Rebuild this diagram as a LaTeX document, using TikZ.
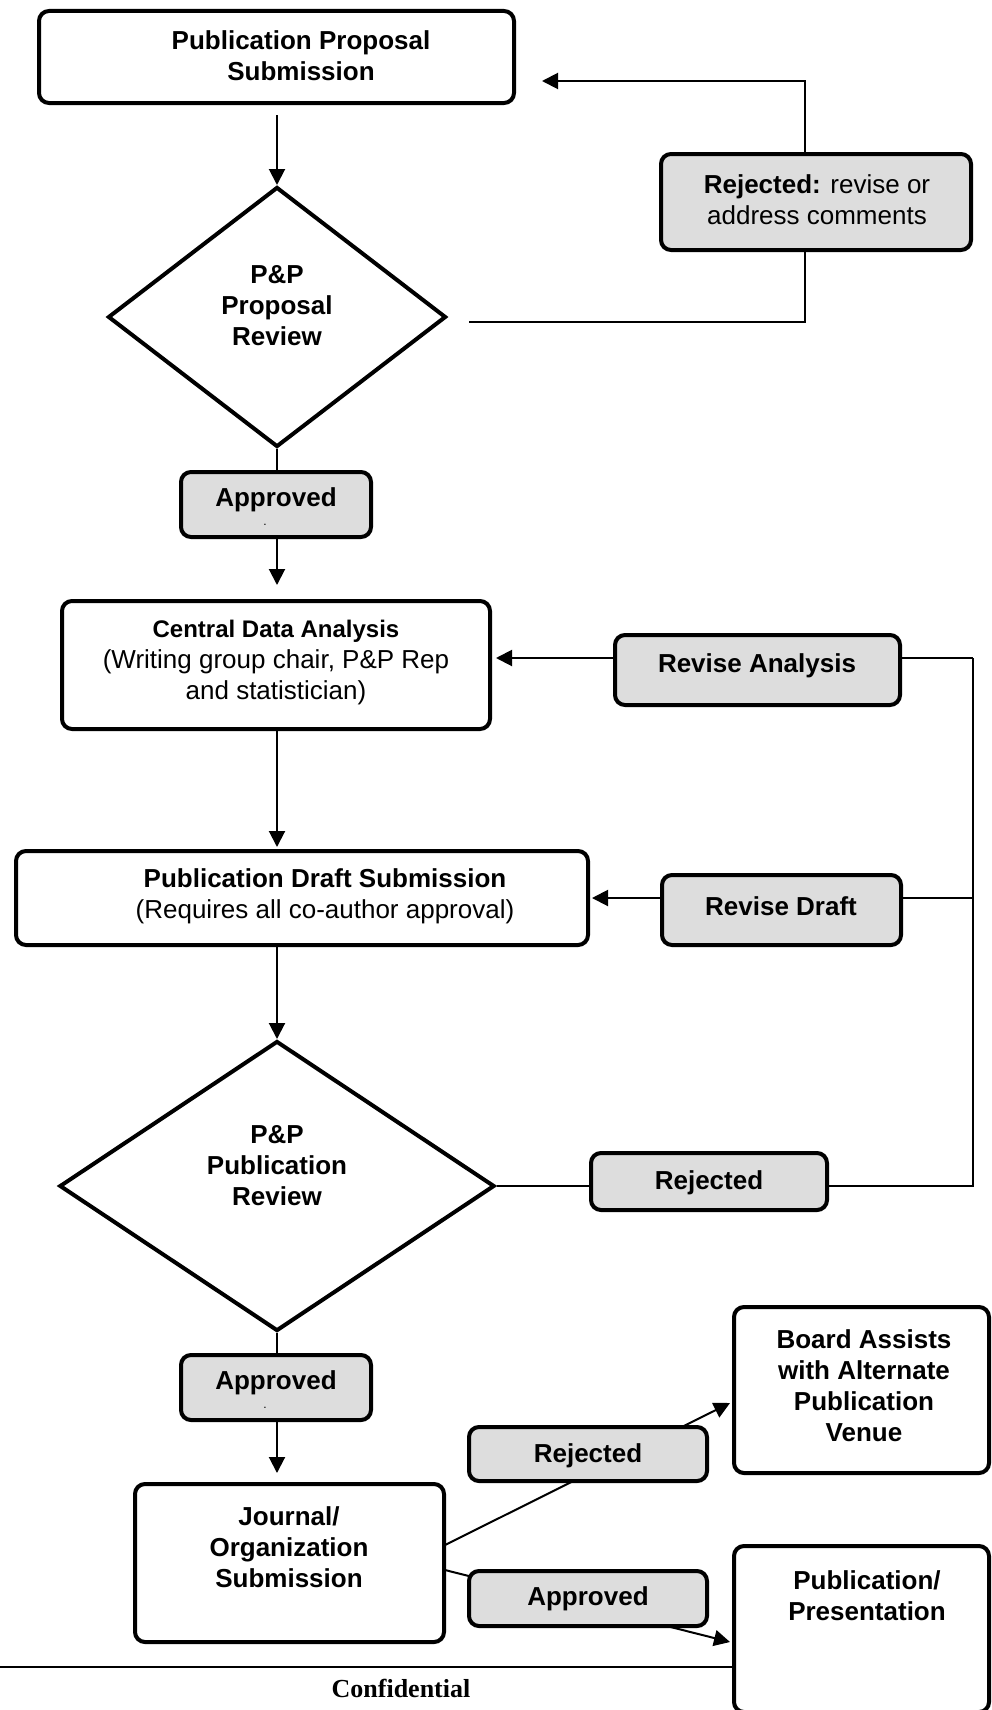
\documentclass[tikz,border=0pt]{standalone}
\usepackage{fontspec}
\setmainfont{Liberation Sans}
\newfontfamily\confserif{Liberation Serif}
\usetikzlibrary{shapes.geometric,arrows.meta,calc}
\definecolor{lgray}{RGB}{221,221,221}
\pgfdeclarelayer{bg}
\pgfsetlayers{bg,main}
\begin{document}
\begin{tikzpicture}[x=1pt,y=-1pt,
  box/.style={draw, line width=4pt, rounded corners=10pt, inner sep=0pt, fill=white},
  gbox/.style={box, fill=lgray},
  dia/.style={diamond, draw, line width=4pt, inner sep=0pt, fill=white},
  conn/.style={line width=2pt},
  arr/.style={conn, -{Triangle[length=16pt,width=16pt]}},
  txt/.style={inner sep=0pt, align=center, font=\fontsize{26}{31}\selectfont},
  btxt/.style={inner sep=0pt, align=center, font=\bfseries\fontsize{26}{31}\selectfont},
  dot/.style={inner sep=0pt, font=\fontsize{12}{12}\selectfont},
]
\useasboundingbox (0,0) rectangle (992,1710);
\clip (0,0) rectangle (992,1710);

% main boxes
\node[box, minimum width=475pt, minimum height=92pt] (b1) at (276.5,57) {};
\node[btxt] (b1t) at (301,56) {Publication Proposal\\Submission};

\node[dia, minimum width=338pt, minimum height=260pt] (d1) at (277,317) {};
\node[btxt] (d1t) at (277,306) {P\&P\\Proposal\\Review};

\node[gbox, minimum width=310pt, minimum height=96pt] (r1) at (816,202) {};
\node[txt] (r1t) at (817,200) {\textbf{Rejected:} revise or\\address comments};

\node[gbox, minimum width=190pt, minimum height=65pt] (a1) at (276,504.5) {};
\node[btxt] (a1t) at (276,500) {Approved};
\node[dot] (a1d) at (265,525) {.};

\node[box, minimum width=428pt, minimum height=128pt] (cen) at (276,665) {};
\node[txt] (cent) at (276,662) {{\bfseries\fontsize{24}{31}\selectfont Central Data Analysis}\\(Writing group chair, P\&P Rep\\and statistician)};

\node[gbox, minimum width=285pt, minimum height=70pt] (ra) at (757.5,670) {};
\node[btxt] (rat) at (757,666) {Revise Analysis};

\node[box, minimum width=572pt, minimum height=94pt] (dr) at (302,898) {};
\node[txt] (drt) at (325,896) {\textbf{Publication Draft Submission}\\(Requires all co-author approval)};

\node[gbox, minimum width=239pt, minimum height=70pt] (rd) at (781.5,910) {};
\node[btxt] (rdt) at (781,906) {Revise Draft};

\node[dia, minimum width=435pt, minimum height=290pt] (d2) at (277,1186) {};
\node[btxt] (d2t) at (277,1166) {P\&P\\Publication\\Review};

\node[gbox, minimum width=236pt, minimum height=57pt] (r2) at (709,1181.5) {};
\node[btxt] (r2t) at (709,1183) {Rejected};

\node[gbox, minimum width=190pt, minimum height=65pt] (a2) at (276,1387.5) {};
\node[btxt] (a2t) at (276,1383) {Approved};
\node[dot] (a2d) at (265,1408) {.};

\node[box, minimum width=309pt, minimum height=158pt] (jo) at (289.5,1563) {};
\node[btxt] (jot) at (289,1547) {Journal/\\Organization\\Submission};

\node[box, minimum width=255pt, minimum height=166pt] (bd) at (861.5,1390) {};
\node[btxt] (bdt) at (864,1386) {Board Assists\\with Alternate\\Publication\\Venue};

\node[box, minimum width=255pt, minimum height=166pt] (pp) at (861.5,1629) {};
\node[btxt] (ppt) at (867,1596) {Publication/\\Presentation};

\node[gbox, minimum width=238pt, minimum height=54pt] (r3) at (588,1454) {};
\node[btxt] (r3t) at (588,1456) {Rejected};

\node[gbox, minimum width=238pt, minimum height=55pt] (a3) at (588,1598.5) {};
\node[btxt] (a3t) at (588,1599) {Approved};

\node[inner sep=0pt, font=\confserif\bfseries\fontsize{26}{31}\selectfont] (conf) at (401,1688) {Confidential};

% free connector ends
\coordinate (c1) at (277,115);
\coordinate (c2) at (469,322);
\coordinate (c3) at (542,81);
\coordinate (c5) at (805,81);
\coordinate (c6) at (277,585);
\coordinate (c7) at (973,658);
\coordinate (c8) at (973,898);
\coordinate (c10) at (496,658);
\coordinate (c11) at (592,898);
\coordinate (c12) at (277,847);
\coordinate (c13) at (277,1473);
\coordinate (c14) at (445,1545);
\coordinate (c15) at (730,1403);
\coordinate (c16) at (445,1570);
\coordinate (c17) at (730,1642);
\coordinate (c18) at (0,1667);

\begin{pgfonlayer}{bg}
\draw[arr] (c1) -- (d1.north);
\draw[arr] (c2) -| (c5) -- (c3);
\draw[conn] (d1.south) -- (a1.north -| d1.south);
\draw[arr] (a1.south -| d1.south) -- (c6);
\draw[arr] (c7) -- (c10);
\draw[arr] (cen.south -| c12) -- (c12);
\draw[arr] (c8) -- (c11);
\draw[arr] (dr.south -| d2.north) -- (d2.north);
\draw[conn] (d2.east) -- (d2.east -| c7) -- (c7);
\draw[conn] (d2.south) -- (a2.north -| d2.south);
\draw[arr] (a2.south -| d2.south) -- (c13);
\draw[arr] (c14) -- (c15);
\draw[arr] (c16) -- (c17);
\draw[line width=2.5pt] (c18) -- (c18 -| pp.west);
\end{pgfonlayer}
\end{tikzpicture}
\end{document}
